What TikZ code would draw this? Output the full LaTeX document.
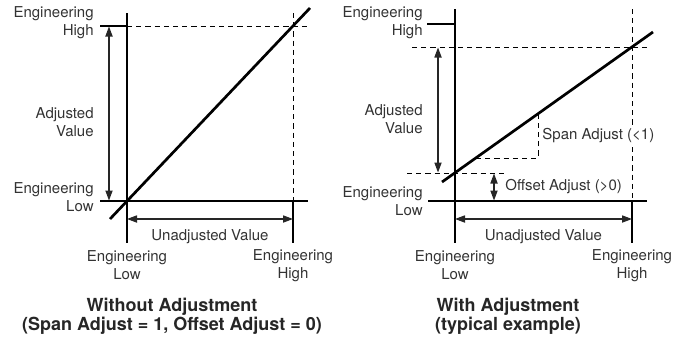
\documentclass[tikz,border=0pt]{standalone}
\usepackage{fontspec}
\setmainfont{TeX Gyre Heros}
\usetikzlibrary{arrows.meta}
\tikzset{
  axis/.style={black, line width=0.55pt},
  guide/.style={black, line width=0.5pt, dash pattern=on 2.6pt off 2pt},
  trend/.style={black, line width=1.35pt},
  dim/.style={black!85, line width=0.55pt,
    {Triangle[length=5pt,width=3.6pt]}-{Triangle[length=5pt,width=3.6pt]}},
  lbl/.style={text=black!80, inner sep=0pt, font=\fontsize{7.5}{9}\selectfont},
  ttl/.style={text=black!85, inner sep=0pt, align=center,
    font=\fontsize{9}{9.4}\selectfont\bfseries},
}
% axes, the high-side guide and the bottom scale of one panel
\newcommand{\eframe}[4]{%
  \coordinate (#1lt) at (#2,#4);
  \coordinate (#1lb) at (#2,243);
  \coordinate (#1ll) at ({#2-27},201);
  \coordinate (#1hr) at ({#3+15},201);
  \coordinate (#1ht) at (#3,#4);
  \coordinate (#1hm) at (#3,201);
  \coordinate (#1hb) at (#3,243);
  \coordinate (#1ua) at (#2,219);
  \coordinate (#1ub) at (#3,219);
  \draw[axis] (#1lt) -- (#1lb);
  \draw[axis] (#1ll) -- (#1hr);
  \draw[guide] (#1ht) -- (#1hm);
  \draw[axis] (#1hm) -- (#1hb);
  \draw[dim] (#1ua) -- node[lbl, below=5pt] (#1un) {Unadjusted Value} (#1ub);
  \node[lbl, align=center] (#1bl) at (#2,265.5) {Engineering\\Low};
  \node[lbl, align=center] (#1bh) at (#3,265.5) {Engineering\\High};
}

\begin{document}
\begin{tikzpicture}[x=0.5pt, y=-0.5pt]
  \useasboundingbox (0,0) rectangle (683,343);
  % without adjustment
  \eframe{a}{127}{293}{13}
  \coordinate (atl) at (100,26);
  \coordinate (atm) at (127,26);
  \coordinate (atr) at (308,26);
  \draw[axis] (atl) -- (atm);
  \draw[guide] (atm) -- (atr);
  \coordinate (as) at (110,219);
  \coordinate (ae) at (310,8);
  \draw[trend] (as) -- (ae);
  \coordinate (ava) at (109,26.5);
  \coordinate (avb) at (109,200.5);
  \draw[dim] (ava) -- (avb);
  \node[lbl, align=right, anchor=east] (aeh) at (94,23) {Engineering\\High};
  \node[lbl, align=right, anchor=east] (aav) at (94,122.5) {Adjusted\\Value};
  \node[lbl, align=right, anchor=east] (ael) at (94,197.5) {Engineering\\Low};
  \node[ttl] (atitle) at (172,316) {Without Adjustment\\(Span Adjust = 1, Offset Adjust = 0)};
  % with adjustment
  \eframe{b}{455}{632}{9}
  \coordinate (btl) at (427,24);
  \coordinate (btm) at (455,24);
  \draw[axis] (btl) -- (btm);
  \coordinate (bhl) at (412,47);
  \coordinate (bhr) at (648,47);
  \draw[guide] (bhl) -- (bhr);
  \coordinate (bll) at (407,173);
  \coordinate (blr) at (508,173);
  \draw[guide] (bll) -- (blr);
  \coordinate (bs) at (442,182);
  \coordinate (be) at (653,32);
  \draw[trend] (bs) -- (be);
  \coordinate (bsa) at (476,158);
  \coordinate (bsc) at (538,158);
  \coordinate (bsb) at (538,114);
  \draw[guide] (bsa) -- (bsc) -- (bsb);
  \coordinate (bva) at (438,47.5);
  \coordinate (bvb) at (438,172.5);
  \draw[dim] (bva) -- (bvb);
  \coordinate (boa) at (494,173.5);
  \coordinate (bob) at (494,200.5);
  \draw[dim] (boa) -- (bob);
  \node[lbl, align=right, anchor=east] (beh) at (423,23) {Engineering\\High};
  \node[lbl, align=right, anchor=east] (bav) at (423,119) {Adjusted\\Value};
  \node[lbl, align=right, anchor=east] (bel) at (423,201.5) {Engineering\\Low};
  \node[lbl, anchor=west, fill=white, inner xsep=1pt, inner ysep=1pt] (bsp) at (540,136) {Span Adjust (<1)};
  \node[lbl, anchor=west] (bof) at (505,187) {Offset Adjust (>0)};
  \node[ttl] (btitle) at (508,316) {With Adjustment\\(typical example)};
\end{tikzpicture}
\end{document}
